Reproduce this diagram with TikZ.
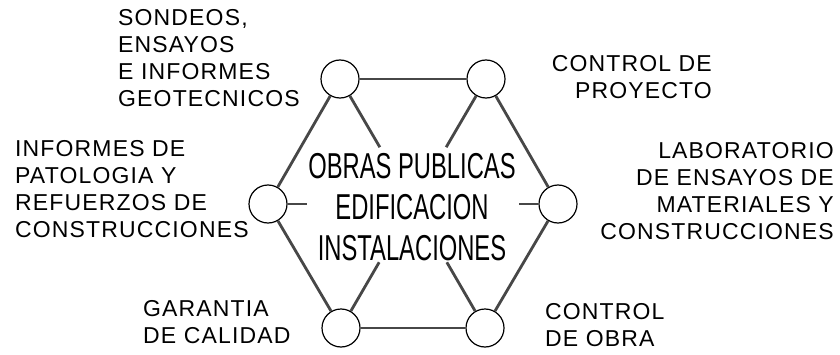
\documentclass[tikz,border=0pt]{standalone}
\usepackage{fontspec}
\newfontfamily\labfont[LetterSpace=5]{Liberation Sans}
\newfontfamily\cenfont[FakeStretch=0.66]{Liberation Sans}
\usetikzlibrary{calc}
\begin{document}
\begin{tikzpicture}[x=1pt,y=1pt,
  hub/.style={circle,draw=black,line width=1.2pt,fill=white,minimum size=38pt,inner sep=0pt},
  edge/.style={draw=black!72,line width=2.8pt},
  lab/.style={font=\labfont\fontsize{23}{27}\selectfont,inner sep=0pt},
  cen/.style={font=\cenfont\fontsize{36}{41}\selectfont,inner sep=0pt,align=center}]
\fill[white] (0,0) rectangle (840,354);
\useasboundingbox (0,0) rectangle (840,354);
% hubs
\node[hub] (tl) at (340,275) {};
\node[hub] (tr) at (486,275) {};
\node[hub] (l)  at (268,150) {};
\node[hub] (r)  at (558,150) {};
\node[hub] (bl) at (341,26) {};
\node[hub] (br) at (485,26) {};
\coordinate (ctr) at (413,150);
% centre text
\node[cen,anchor=north] (c) at (412,201) {OBRAS PUBLICAS\\EDIFICACION\\INSTALACIONES};
% labels
\node[lab,anchor=north west,align=left] (t1) at (118,345) {SONDEOS,\\ENSAYOS\\E INFORMES\\GEOTECNICOS};
\node[lab,anchor=north west,align=left] (t2) at (15,214) {INFORMES DE\\PATOLOGIA Y\\REFUERZOS DE\\CONSTRUCCIONES};
\node[lab,anchor=north east,align=right] (t3) at (712,299) {CONTROL DE\\PROYECTO};
\node[lab,anchor=north east,align=right] (t4) at (834,212) {LABORATORIO\\DE ENSAYOS DE\\MATERIALES Y\\CONSTRUCCIONES};
\node[lab,anchor=north west,align=left] (t5) at (143,54) {GARANTIA\\DE CALIDAD};
\node[lab,anchor=north west,align=left] (t6) at (545,51) {CONTROL\\DE OBRA};
% spoke ends
\coordinate (stl) at ($(tl)!79pt!(ctr)$);
\coordinate (str) at ($(tr)!79pt!(ctr)$);
\coordinate (sl)  at ($(l)!39pt!(ctr)$);
\coordinate (sr)  at ($(r)!39pt!(ctr)$);
\coordinate (sbl) at ($(bl)!76pt!(ctr)$);
\coordinate (sbr) at ($(br)!76pt!(ctr)$);
% hexagon
\draw[edge] (tl) -- (tr);
\draw[edge] (tr) -- (r);
\draw[edge] (r) -- (br);
\draw[edge] (br) -- (bl);
\draw[edge] (bl) -- (l);
\draw[edge] (l) -- (tl);
% spokes
\draw[edge] (tl) -- (stl);
\draw[edge] (tr) -- (str);
\draw[edge] (l) -- (sl);
\draw[edge] (r) -- (sr);
\draw[edge] (bl) -- (sbl);
\draw[edge] (br) -- (sbr);
\end{tikzpicture}
\end{document}
